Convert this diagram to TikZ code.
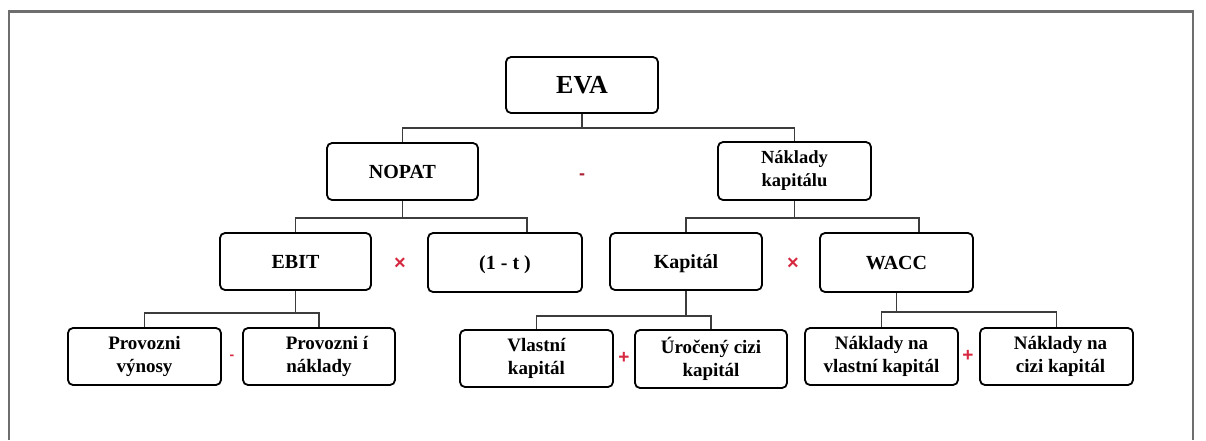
\documentclass[tikz,border=0pt]{standalone}
\usepackage{fontspec}
\setmainfont{Liberation Serif}
\newfontfamily\opfont{Liberation Sans}
\definecolor{opred}{RGB}{214,40,64}
\definecolor{framegray}{RGB}{110,110,110}
\definecolor{linegray}{RGB}{60,60,60}
\tikzset{
  box/.style={draw=black, line width=1.8pt, rounded corners=5pt, fill=white, align=center, inner sep=2pt,
              font=\bfseries\fontsize{19}{23}\selectfont},
  single/.style={font=\bfseries\fontsize{20}{24}\selectfont, text height=18pt, text depth=4pt},
  conn/.style={draw=linegray, line width=1.2pt},
  op/.style={text=opred, font=\opfont\bfseries\fontsize{20}{20}\selectfont, inner sep=0pt}
}
\begin{document}
\begin{tikzpicture}[x=1pt,y=-1pt]
\useasboundingbox (0,0) rectangle (1206,440);
% frame
\draw[framegray, line width=2pt] (9,440) -- (9,11) -- (1193,11) -- (1193,440);
\draw[framegray, line width=3pt] (8,11) -- (1194,11);
% nodes
\node[box, minimum width=152pt, minimum height=56pt, font=\bfseries\fontsize{26}{30}\selectfont] (eva) at (582,85) {EVA};
\node[box, single, minimum width=151pt, minimum height=57pt] (nopat) at (402.5,171.5) {NOPAT};
\node[box, minimum width=153pt, minimum height=58pt, font=\bfseries\fontsize{18.5}{23}\selectfont] (nk) at (794.5,171) {Náklady\\kapitálu};
\node[box, single, minimum width=151pt, minimum height=57pt] (ebit) at (295.5,261.5) {EBIT};
\node[box, single, minimum width=154pt, minimum height=59pt] (onet) at (505,262.5) {(1 - t )};
\node[box, single, minimum width=152pt, minimum height=57pt] (kap) at (686,261.5) {Kapitál};
\node[box, single, minimum width=153pt, minimum height=59pt] (wacc) at (896.5,262.5) {WACC};
\node[box, minimum width=153pt, minimum height=57pt] (pv) at (144.5,356.5) {Provozni\\výnosy};
\node[box, minimum width=152pt, minimum height=57pt] (pn) at (319,356.5) {\hspace*{16pt}Provozni í\\náklady};
\node[box, minimum width=153pt, minimum height=57pt] (vk) at (536.5,358.5) {Vlastní\\kapitál};
\node[box, minimum width=152pt, minimum height=58pt] (uk) at (711,359) {Úročený cizi\\kapitál};
\node[box, minimum width=153pt, minimum height=57pt] (nv) at (881.5,356.5) {Náklady na\\vlastní kapitál};
\node[box, minimum width=153pt, minimum height=57pt] (nc) at (1056.5,356.5) {\hspace*{8pt}Náklady na\\\hspace*{8pt}cizi kapitál};
% operators
\node[op, text=opred!80!black, font=\opfont\bfseries\fontsize{18}{18}\selectfont] (m1) at (582,177) {-};
\node[op] (x1) at (400,264) {×};
\node[op] (x2) at (793,264) {×};
\node[op, font=\opfont\bfseries\fontsize{14}{14}\selectfont] (m2) at (232,357) {-};
\node[op, font=\opfont\bfseries\fontsize{19}{19}\selectfont] (p1) at (624,358) {+};
\node[op, font=\opfont\bfseries\fontsize{19}{19}\selectfont] (p2) at (968,356) {+};
% connector bar levels
\coordinate (y1) at (0,128);
\coordinate (y2) at (0,218);
\coordinate (y3) at (0,313);
\coordinate (y4) at (0,316);
\coordinate (y5) at (0,312);
\coordinate (onetr) at ([xshift=22pt]onet.north);
\coordinate (waccr) at ([xshift=22.5pt]wacc.north);
% connectors
\draw[conn] (eva.south) -- (eva.south |- y1);
\draw[conn] (nopat.north) -- (nopat.north |- y1) -- (nk.north |- y1) -- (nk.north);
\draw[conn] (nopat.south) -- (nopat.south |- y2);
\draw[conn] (ebit.north) -- (ebit.north |- y2) -- (onetr |- y2) -- (onetr);
\draw[conn] (nk.south) -- (nk.south |- y2);
\draw[conn] (kap.north) -- (kap.north |- y2) -- (waccr |- y2) -- (waccr);
\draw[conn] (ebit.south) -- (ebit.south |- y3);
\draw[conn] (pv.north) -- (pv.north |- y3) -- (pn.north |- y3) -- (pn.north);
\draw[conn] (kap.south) -- (kap.south |- y4);
\draw[conn] (vk.north) -- (vk.north |- y4) -- (uk.north |- y4) -- (uk.north);
\draw[conn] (wacc.south) -- (wacc.south |- y5);
\draw[conn] (nv.north) -- (nv.north |- y5) -- (nc.north |- y5) -- (nc.north);
\end{tikzpicture}
\end{document}
